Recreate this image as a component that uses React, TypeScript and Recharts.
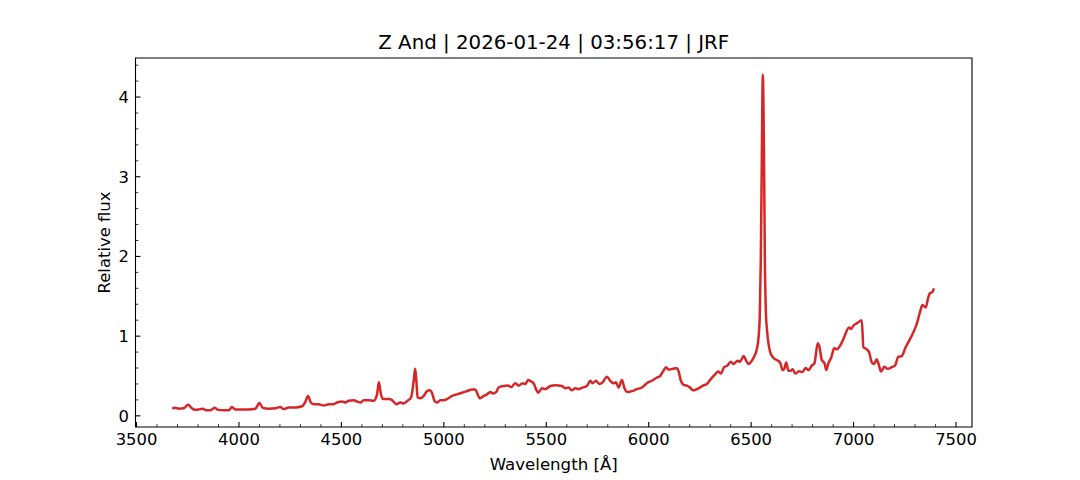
import React from 'react';
import { LineChart, Line, XAxis, YAxis, ReferenceArea } from 'recharts';

// spectrum (wavelength in Å, relative flux)
const wavelength = [
  3674, 3690, 3706, 3731, 3752, 3768, 3785, 3804, 3823, 3840, 3861, 3882, 3898, 3926, 3950,
  3966, 3983, 4015, 4048, 4080, 4100, 4116, 4145, 4178, 4202, 4218, 4243, 4276, 4308, 4324,
  4337, 4350, 4365, 4389, 4414, 4438, 4462, 4479, 4503, 4520, 4536, 4560, 4576, 4593, 4609,
  4633, 4658, 4674, 4683, 4693, 4703, 4731, 4747, 4768, 4788, 4804, 4823, 4840, 4853, 4860,
  4866, 4872, 4885, 4902, 4918, 4931, 4942, 4954, 4967, 4983, 4999, 5015, 5040, 5064, 5089,
  5113, 5138, 5154, 5165, 5175, 5195, 5211, 5227, 5240, 5256, 5267, 5292, 5313, 5329, 5349,
  5365, 5385, 5398, 5411, 5427, 5438, 5450, 5460, 5479, 5495, 5520, 5544, 5577, 5593, 5609,
  5625, 5641, 5658, 5677, 5698, 5715, 5726, 5742, 5759, 5775, 5796, 5812, 5828, 5840, 5853,
  5869, 5882, 5894, 5918, 5942, 5967, 5991, 6015, 6040, 6056, 6072, 6085, 6097, 6118, 6137,
  6145, 6157, 6170, 6186, 6199, 6218, 6243, 6265, 6284, 6303, 6324, 6340, 6352, 6368, 6384,
  6401, 6414, 6433, 6446, 6463, 6476, 6487, 6503, 6516, 6528, 6536, 6542, 6547, 6552, 6557,
  6563, 6567, 6572, 6578, 6585, 6593, 6608, 6625, 6641, 6654, 6661, 6671, 6682, 6693, 6703,
  6715, 6734, 6750, 6766, 6780, 6796, 6809, 6825, 6832, 6845, 6858, 6867, 6877, 6890, 6906,
  6918, 6934, 6950, 6967, 6978, 6988, 6999, 7015, 7032, 7040, 7048, 7064, 7076, 7089, 7100,
  7113, 7121, 7134, 7150, 7167, 7186, 7202, 7218, 7235, 7254, 7271, 7292, 7308, 7324, 7336,
  7352, 7365, 7373, 7384, 7392,
];

const flux = [
  0.092, 0.1, 0.09, 0.095, 0.14, 0.1, 0.075, 0.08, 0.09, 0.07, 0.07, 0.1, 0.075, 0.07, 0.07,
  0.11, 0.08, 0.08, 0.08, 0.09, 0.16, 0.1, 0.09, 0.095, 0.11, 0.085, 0.105, 0.105, 0.12, 0.175,
  0.25, 0.17, 0.145, 0.145, 0.13, 0.145, 0.145, 0.167, 0.18, 0.167, 0.19, 0.197, 0.18, 0.167, 0.197,
  0.197, 0.19, 0.27, 0.42, 0.27, 0.21, 0.21, 0.197, 0.147, 0.167, 0.155, 0.19, 0.23, 0.44, 0.59,
  0.44, 0.23, 0.22, 0.25, 0.31, 0.32, 0.29, 0.19, 0.167, 0.197, 0.197, 0.21, 0.25, 0.27, 0.29,
  0.31, 0.33, 0.33, 0.27, 0.22, 0.25, 0.27, 0.3, 0.28, 0.3, 0.355, 0.375, 0.38, 0.36, 0.41,
  0.38, 0.41, 0.4, 0.45, 0.43, 0.41, 0.335, 0.29, 0.345, 0.335, 0.375, 0.385, 0.375, 0.345, 0.355,
  0.32, 0.345, 0.335, 0.355, 0.375, 0.44, 0.41, 0.44, 0.4, 0.42, 0.49, 0.44, 0.41, 0.42, 0.355,
  0.45, 0.345, 0.3, 0.31, 0.335, 0.355, 0.41, 0.44, 0.48, 0.5, 0.565, 0.61, 0.58, 0.59, 0.6,
  0.565, 0.44, 0.39, 0.38, 0.36, 0.32, 0.345, 0.38, 0.4, 0.46, 0.52, 0.556, 0.53, 0.61, 0.63,
  0.68, 0.65, 0.69, 0.68, 0.75, 0.69, 0.65, 0.69, 0.75, 0.84, 0.98, 1.25, 1.95, 3.2, 4.28,
  3.2, 1.95, 1.3, 1.06, 0.9, 0.8, 0.73, 0.7, 0.67, 0.575, 0.585, 0.67, 0.565, 0.565, 0.585,
  0.53, 0.56, 0.55, 0.6, 0.575, 0.63, 0.66, 0.91, 0.88, 0.7, 0.66, 0.575, 0.66, 0.725, 0.85,
  0.835, 0.88, 0.96, 1.07, 1.11, 1.09, 1.13, 1.16, 1.19, 1.2, 0.86, 0.835, 0.795, 0.67, 0.65,
  0.71, 0.66, 0.556, 0.615, 0.59, 0.61, 0.63, 0.74, 0.75, 0.86, 0.94, 1.05, 1.15, 1.3, 1.39,
  1.36, 1.49, 1.54, 1.55, 1.6,
];

const xTicks = [
  3500, 3600, 3700, 3800, 3900, 4000, 4100, 4200, 4300, 4400, 4500, 4600, 4700, 4800, 4900,
  5000, 5100, 5200, 5300, 5400, 5500, 5600, 5700, 5800, 5900, 6000, 6100, 6200, 6300, 6400,
  6500, 6600, 6700, 6800, 6900, 7000, 7100, 7200, 7300, 7400, 7500,
];
const yTicks = [
  0, 0.2, 0.4, 0.6, 0.8, 1, 1.2, 1.4, 1.6, 1.8, 2, 2.2, 2.4, 2.6, 2.8, 3, 3.2, 3.4, 3.6, 3.8,
  4, 4.2, 4.4,
];

const xDomain = [3495, 7578];
const yDomain = [-0.14, 4.49];

const data = wavelength.map((w, i) => ({ wavelength: w, flux: flux[i] }));

const FONT = 'DejaVu Sans, sans-serif';
const TICK_FS = 16.4;

function XTick({ x, y, payload }: any) {
  const v = payload.value;
  const major = v % 500 === 0;
  return (
    <g>
      <line x1={x} x2={x} y1={y} y2={y - (major ? 4.9 : 2.8)} stroke="#000" strokeWidth={major ? 1.1 : 0.8} />
      {major && (
        <text x={x} y={y + 17.5} textAnchor="middle" fontSize={TICK_FS} fill="#000">
          {v}
        </text>
      )}
    </g>
  );
}

function YTick({ x, y, payload }: any) {
  const v = payload.value;
  const major = Number.isInteger(v);
  return (
    <g>
      <line x1={x} x2={x + (major ? 4.9 : 2.8)} y1={y} y2={y} stroke="#000" strokeWidth={major ? 1.1 : 0.8} />
      {major && (
        <text x={x - 6.5} y={y + 6} textAnchor="end" fontSize={TICK_FS} fill="#000">
          {v}
        </text>
      )}
    </g>
  );
}

export default function App() {
  return (
    <div style={{ position: 'absolute', left: 0, top: 0, width: 1080, height: 480, background: '#fff', fontFamily: FONT }}>
      <div
        style={{
          position: 'absolute',
          left: 135.5,
          width: 836.5,
          top: 31,
          textAlign: 'center',
          fontSize: 19.8,
          lineHeight: '24px',
          color: '#000',
        }}
      >
        Z And | 2026-01-24 | 03:56:17 | JRF
      </div>
      <LineChart width={1080} height={480} data={data} margin={{ top: 58, right: 108, left: 0, bottom: 0 }}>
        <XAxis
          dataKey="wavelength"
          type="number"
          domain={xDomain}
          allowDataOverflow
          ticks={xTicks}
          interval={0}
          height={53}
          axisLine={false}
          tickLine={false}
          tickSize={0}
          tickMargin={0}
          tick={<XTick />}
          label={{ value: 'Wavelength [Å]', position: 'insideBottom', offset: 10, fontSize: 16.6, fill: '#000' }}
        />
        <YAxis
          type="number"
          domain={yDomain}
          allowDataOverflow
          ticks={yTicks}
          interval={0}
          width={135.5}
          axisLine={false}
          tickLine={false}
          tickSize={0}
          tickMargin={0}
          tick={<YTick />}
          label={{ value: 'Relative flux', angle: -90, position: 'center', dx: 36, fontSize: 16.4, fill: '#000' }}
        />
        <ReferenceArea
          x1={xDomain[0]}
          x2={xDomain[1]}
          y1={yDomain[0]}
          y2={yDomain[1]}
          fill="none"
          stroke="#000"
          strokeWidth={1.1}
          fillOpacity={0}
        />
        <Line
          type="monotone"
          dataKey="flux"
          stroke="#d62728"
          strokeWidth={2.5}
          dot={false}
          isAnimationActive={false}
        />
      </LineChart>
    </div>
  );
}
